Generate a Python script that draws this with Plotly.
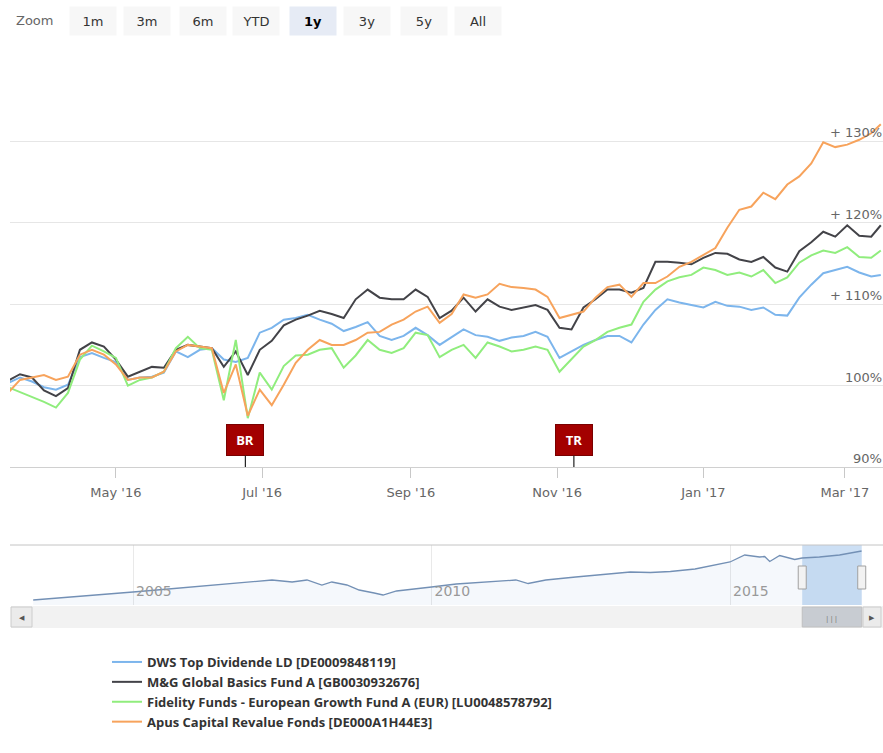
import plotly.graph_objects as go

# ---------------- data ----------------
dates = ['2016-03-17','2016-03-22','2016-03-27','2016-04-01','2016-04-06','2016-04-11','2016-04-16',
         '2016-04-21','2016-04-26','2016-05-01','2016-05-06','2016-05-11','2016-05-16','2016-05-21',
         '2016-05-26','2016-05-31','2016-06-05','2016-06-10','2016-06-15','2016-06-20','2016-06-25',
         '2016-06-30','2016-07-05','2016-07-10','2016-07-15','2016-07-20','2016-07-25','2016-07-30',
         '2016-08-04','2016-08-09','2016-08-14','2016-08-19','2016-08-24','2016-08-29','2016-09-03',
         '2016-09-08','2016-09-13','2016-09-18','2016-09-23','2016-09-28','2016-10-03','2016-10-08',
         '2016-10-13','2016-10-18','2016-10-23','2016-10-28','2016-11-02','2016-11-07','2016-11-12',
         '2016-11-17','2016-11-22','2016-11-27','2016-12-02','2016-12-07','2016-12-12','2016-12-17',
         '2016-12-22','2016-12-27','2017-01-01','2017-01-06','2017-01-11','2017-01-16','2017-01-21',
         '2017-01-26','2017-01-31','2017-02-05','2017-02-10','2017-02-15','2017-02-20','2017-02-25',
         '2017-03-02','2017-03-07','2017-03-12','2017-03-16']

dws = [100.3,101.0,100.5,99.8,99.5,100.1,103.5,104.0,103.4,102.9,
       100.7,101.0,101.1,101.6,104.2,103.5,104.4,104.6,103.2,102.9,
       103.4,106.5,107.1,108.1,108.3,108.7,108.1,107.6,106.7,107.2,
       107.8,106.1,105.6,106.1,107.1,106.2,105.0,106.0,106.9,106.2,
       106.0,105.5,105.9,106.1,106.6,106.0,103.4,104.2,105.0,105.6,
       106.1,106.1,105.3,107.5,109.3,110.6,110.2,109.9,109.6,110.3,
       109.8,109.7,109.3,109.6,108.7,108.6,110.8,112.4,113.8,114.2,
       114.6,113.9,113.4,113.6]

mg = [100.6,101.4,101.0,99.4,98.7,99.7,104.4,105.3,104.8,103.2,
      101.1,101.7,102.3,102.2,104.4,105.0,104.8,104.6,102.3,104.2,
      101.3,104.4,105.5,107.4,108.1,108.6,109.2,108.8,108.3,110.6,
      111.8,110.8,110.6,110.6,111.8,110.9,108.3,109.2,110.8,109.1,
      110.6,109.7,109.3,109.6,109.9,109.3,107.1,106.9,109.6,110.6,
      111.8,111.8,111.4,112.0,115.2,115.2,115.1,114.9,115.7,116.3,
      116.2,115.5,115.2,115.8,114.5,114.0,116.5,117.6,118.9,118.3,
      119.7,118.4,118.3,119.7]

fid = [99.8,99.2,98.6,98.0,97.3,99.1,103.2,104.9,104.2,103.4,
       100.0,100.7,101.0,101.7,104.6,106.0,104.6,104.4,98.2,105.6,
       96.0,101.6,99.5,102.4,103.7,103.8,104.4,104.6,102.2,103.7,
       105.6,104.4,104.0,104.6,106.5,106.2,103.5,104.4,105.0,103.4,
       105.3,104.8,104.2,104.4,104.8,104.4,101.7,103.2,104.8,105.6,
       106.6,107.1,107.5,110.3,111.8,112.8,113.3,113.6,114.5,114.2,
       113.6,113.9,113.4,114.2,112.6,113.3,115.1,116.0,116.6,116.3,
       117.0,115.8,115.7,116.6]

apus = [99.1,100.7,101.0,101.3,100.7,101.1,103.8,104.4,103.8,102.6,
        100.7,101.0,101.0,101.7,104.2,105.0,104.8,104.6,99.1,102.6,
        96.3,99.5,97.6,100.1,102.8,104.4,105.6,105.0,105.0,105.6,
        106.5,106.6,107.5,108.1,109.1,109.7,107.7,108.8,111.2,110.8,
        111.2,112.5,112.1,112.0,111.8,110.9,108.3,108.7,109.1,110.8,
        112.1,112.4,110.9,112.6,112.6,113.4,114.6,115.2,116.1,116.9,
        119.4,121.6,122.0,123.7,122.9,124.7,125.7,127.3,129.9,129.3,
        129.6,130.2,131.0,132.1]

series_names = ['DWS Top Dividende LD [DE0009848119]',
                'M&G Global Basics Fund A [GB0030932676]',
                'Fidelity Funds - European Growth Fund A (EUR) [LU0048578792]',
                'Apus Capital Revalue Fonds [DE000A1H44E3]']
series_colors = ['#7cb5ec', '#434348', '#90ed7d', '#f7a35c']

# navigator (full history)
nav_dates = ['2003-05-01','2004-01-01','2005-01-01','2005-07-01','2006-01-01','2006-07-01','2007-01-01',
             '2007-05-01','2007-09-01','2007-12-01','2008-03-01','2008-05-01','2008-08-01','2008-10-15',
             '2009-01-15','2009-03-10','2009-06-01','2009-10-01','2010-01-01','2010-06-01','2011-01-01',
             '2011-06-01','2011-08-15','2011-12-01','2012-06-01','2013-01-01','2013-05-01','2013-09-01',
             '2014-01-01','2014-06-01','2014-11-01','2015-01-01','2015-04-01','2015-07-01','2015-08-01',
             '2015-09-01','2015-11-01','2016-02-01','2016-03-17','2016-07-01','2016-11-01','2017-03-16']
nav_vals = [48.0,52.8,60.8,64.8,68.8,73.6,76.8,80.0,76.8,80.0,72.0,76.8,72.0,64.0,
            59.2,56.0,62.4,65.6,68.8,73.6,76.8,80.0,74.4,80.0,84.8,89.6,92.8,92.0,
            93.6,97.6,105.6,108.8,120.0,116.8,117.6,109.6,119.2,112.8,115.2,116.8,120.0,126.4]

y_tickvals = [90, 100, 110, 120, 130, 140]
y_ticktext = ['90%', '100%', '+ 110%', '+ 120%', '+ 130%', '']

x_tickvals = ['2016-05-01', '2016-07-01', '2016-09-01', '2016-11-01', '2017-01-01', '2017-03-01']
x_ticktext = ["May '16", "Jul '16", "Sep '16", "Nov '16", "Jan '17", "Mar '17"]

zoom_buttons = ['1m', '3m', '6m', 'YTD', '1y', '3y', '5y', 'All']
active_button = '1y'

flags = [('2016-06-24', 'BR'), ('2016-11-08', 'TR')]

main_range = ['2016-03-17 20:00', '2017-03-16 22:00']
nav_range = ['2002-12-10', '2017-07-25']

# ---------------- layout helpers (page pixel coords -> paper coords) ----------------
W, H = 883, 753
ML, MR, MT, MB = 10, 0, 60, 148
PW, PH = W - ML - MR, H - MT - MB


def px(X):
    return (X - ML) / PW


def py(Y):
    return (H - MB - Y) / PH


FONT = 'Open Sans'
AXFONT = 'DejaVu Sans'
fig = go.Figure()

for name, vals, color in zip(series_names, [dws, mg, fid, apus], series_colors):
    fig.add_trace(go.Scatter(x=dates, y=vals, mode='lines', name=name,
                             line=dict(color=color, width=2),
                             xaxis='x', yaxis='y'))

fig.add_trace(go.Scatter(x=nav_dates, y=nav_vals, mode='lines', showlegend=False,
                         line=dict(color='#7390b5', width=1.3),
                         fill='tozeroy', fillcolor='rgba(120,160,210,0.07)',
                         hoverinfo='skip', xaxis='x2', yaxis='y2'))

shapes = []
# navigator selection mask
shapes.append(dict(type='rect', xref='x2', yref='paper', x0=main_range[0], x1=main_range[1],
                   y0=0, y1=py(545), fillcolor='rgba(120,170,225,0.38)', line=dict(width=0),
                   layer='below'))
# navigator outline
shapes.append(dict(type='line', xref='paper', yref='paper', x0=0, x1=1, y0=py(545), y1=py(545),
                   line=dict(color='#c4c4c4', width=1)))
# scrollbar track
shapes.append(dict(type='rect', xref='paper', yref='paper', x0=px(11), x1=1, y0=py(628), y1=py(606),
                   fillcolor='#f2f2f2', line=dict(width=0)))
# scrollbar buttons
for x0, x1 in [(11, 32), (863, 881)]:
    shapes.append(dict(type='rect', xref='paper', yref='paper', x0=px(x0), x1=px(x1),
                       y0=py(627), y1=py(607), fillcolor='#ebebeb',
                       line=dict(color='#cccccc', width=1)))
# scrollbar thumb
shapes.append(dict(type='rect', xref='x2', yref='paper', x0=main_range[0], x1=main_range[1],
                   y0=py(627), y1=py(607), fillcolor='#c8ccd2', line=dict(color='#c0c0c0', width=1)))
# navigator handles
for xa in main_range:
    shapes.append(dict(type='rect', xref='x2', xsizemode='pixel', xanchor=xa, x0=-4, x1=4,
                       yref='paper', y0=py(589), y1=py(566), fillcolor='#f2f2f2',
                       line=dict(color='#a0a0a0', width=1)))

annotations = []
annotations.append(dict(xref='paper', yref='paper', x=px(34), y=py(21), text='Zoom', showarrow=False,
                        xanchor='center', yanchor='middle',
                        font=dict(family=AXFONT, size=13, color='#666666')))
btn_x = [93, 147, 203, 256, 313, 367, 424, 478]
for lab, bx in zip(zoom_buttons, btn_x):
    act = lab == active_button
    annotations.append(dict(xref='paper', yref='paper', x=px(bx), y=py(21),
                            xanchor='center', yanchor='middle',
                            text='<b>%s</b>' % lab if act else lab, showarrow=False,
                            width=44, height=26, bgcolor='#e6ebf5' if act else '#f7f7f7',
                            font=dict(family=AXFONT, size=13, color='#000000' if act else '#333333')))
# y-axis labels sitting just above their grid lines at the right edge
for v, t in zip(y_tickvals, y_ticktext):
    if t:
        annotations.append(dict(xref='paper', yref='y', x=1, y=v, text=t, showarrow=False,
                                xanchor='right', yanchor='bottom', borderpad=0,
                                font=dict(family=AXFONT, size=13, color='#666666')))
for fx, ft in flags:
    annotations.append(dict(xref='x', yref='y', x=fx, y=90, text='<b>%s</b>' % ft,
                            showarrow=True, arrowhead=0, arrowwidth=1.2, arrowcolor='#222222',
                            ax=0, ay=-27, width=34, height=28, bgcolor='#a30000',
                            bordercolor='#7a0000', borderwidth=1,
                            font=dict(family=FONT, size=13, color='#ffffff')))
annotations.append(dict(xref='paper', yref='paper', x=px(21.5), y=py(617), text='◀', showarrow=False,
                        xanchor='center', yanchor='middle', font=dict(size=7, color='#555555')))
annotations.append(dict(xref='paper', yref='paper', x=px(872), y=py(617), text='▶', showarrow=False,
                        xanchor='center', yanchor='middle', font=dict(size=7, color='#555555')))
annotations.append(dict(xref='x2', yref='paper', x='2016-09-15', y=py(617), text='|||', showarrow=False,
                        xanchor='center', yanchor='middle', font=dict(size=8, color='#777777')))

fig.update_layout(
    width=W, height=H,
    margin=dict(l=ML, r=MR, t=MT, b=MB, pad=0),
    paper_bgcolor='white', plot_bgcolor='white',
    font=dict(family=FONT, size=13, color='#666666'),
    hovermode='x',
    xaxis=dict(domain=[0, 1], anchor='y', type='date', range=main_range,
               showgrid=False, zeroline=False, tickvals=x_tickvals, ticktext=x_ticktext,
               ticks='outside', ticklen=10, tickcolor='#c8c8c8', showline=True, linecolor='#d0d0d0',
               tickfont=dict(family=AXFONT, size=13, color='#666666'), ticklabelstandoff=3,
               ticklabeloverflow='allow'),
    yaxis=dict(domain=[py(467), 1], anchor='x', side='right', range=[90, 140],
               tickvals=y_tickvals, showticklabels=False,
               showgrid=True, gridcolor='#e6e6e6', gridwidth=1, zeroline=False, showline=False,
               ticks=''),
    xaxis2=dict(domain=[0, 1], anchor='y2', type='date', range=nav_range,
                dtick='M60', tick0='2005-01-01', tickformat='%Y', ticklabelposition='inside right',
                ticklabelshift=3,
                showgrid=True, gridcolor='#e9e9e9', zeroline=False, showline=False, ticks='',
                tickfont=dict(family=AXFONT, size=14, color='#999999')),
    yaxis2=dict(domain=[0, py(545)], anchor='x2', range=[40, 136], visible=False, fixedrange=True),
    legend=dict(orientation='v', x=px(107), y=py(647), xanchor='left', yanchor='top',
                bgcolor='rgba(0,0,0,0)',
                font=dict(family=FONT, size=13, color='#333333', weight='bold')),
    shapes=shapes,
    annotations=annotations,
)

fig.write_html('out.html', config={'displayModeBar': False},
               post_script="document.body.style.margin='0';document.body.style.overflow='hidden';")
